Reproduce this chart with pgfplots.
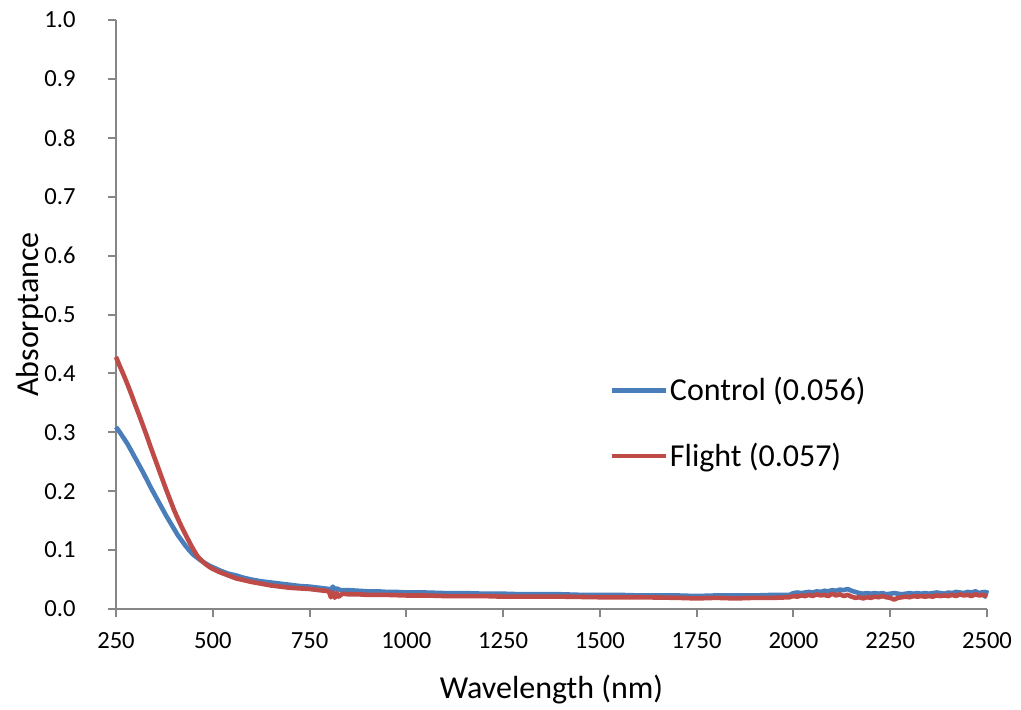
\documentclass[border=0pt]{standalone}
\usepackage{pgfplots}
\pgfplotsset{compat=1.18}
\usepackage{fontspec}
\setmainfont{Carlito}
\definecolor{ctrlblue}{HTML}{4A7EBB}
\definecolor{flightred}{HTML}{BE4B48}
\definecolor{axisgray}{HTML}{868686}

\begin{document}
\begin{tikzpicture}
\begin{axis}[
  scale only axis,
  width=435.5pt, height=294.5pt,
  xmin=250, xmax=2500, ymin=0, ymax=1,
  xtick={250,500,...,2500},
  ytick={0,0.1,...,1.0},
  axis lines*=left,
  axis line style={axisgray, line width=1pt},
  tick style={axisgray, line width=1pt},
  tick align=outside,
  major tick length=4pt,
  font=\fontsize{12.3}{14}\selectfont,
  /pgf/number format/assume math mode=true,
  x tick label style={/pgf/number format/1000 sep={}, inner sep=0pt, yshift=-7.5pt},
  y tick label style={/pgf/number format/.cd, fixed, fixed zerofill, precision=1,
    /tikz/.cd, inner sep=0pt, xshift=-16pt},
  xlabel={Wavelength (nm)},
  ylabel={Absorptance},
  xlabel style={font=\fontsize{16}{18}\selectfont, at={(axis description cs:0.5,0)},
    anchor=center, yshift=-40.5pt},
  ylabel style={font=\fontsize{16}{18}\selectfont, at={(axis description cs:0,0.5)},
    anchor=center, yshift=43pt},
  clip=false,
  legend style={draw=none, fill=none, at={(0.566,0.397)}, anchor=north west,
    font=\fontsize{16}{18}\selectfont, row sep=17.5pt, inner sep=0pt,
    nodes={inner sep=1pt}},
  legend cell align=left,
  legend image code/.code={\draw[#1] (0pt,0pt) -- (27pt,0pt);},
  every axis plot/.append style={line width=2.3pt, line join=round},
]
% Control sample
\addplot[ctrlblue] coordinates {
(250,0.309) (260,0.300) (270,0.290) (280,0.280) (290,0.268) (300,0.256)
(310,0.244) (320,0.232) (330,0.219) (340,0.206) (350,0.194) (360,0.182)
(370,0.170) (380,0.158) (390,0.147) (400,0.136) (410,0.125) (420,0.116)
(430,0.107) (440,0.099) (450,0.092) (460,0.087) (470,0.082) (480,0.078)
(490,0.074) (500,0.071) (520,0.065) (540,0.060) (560,0.057) (580,0.053)
(600,0.050) (625,0.047) (650,0.045) (675,0.043) (700,0.041) (725,0.039)
(750,0.038) (775,0.036) (800,0.034) (805,0.031) (810,0.038) (815,0.033)
(820,0.035) (830,0.032) (850,0.032) (875,0.031) (900,0.030) (925,0.030)
(950,0.029) (975,0.029) (1000,0.028) (1050,0.028) (1100,0.027) (1150,0.027)
(1200,0.026) (1250,0.026) (1300,0.025) (1350,0.025) (1400,0.025) (1450,0.024)
(1500,0.024) (1550,0.024) (1600,0.023) (1650,0.023) (1700,0.023) (1750,0.022)
(1800,0.023) (1850,0.023) (1900,0.023) (1950,0.024) (1990,0.024)
(2000,0.027) (2010,0.028) (2020,0.027) (2030,0.028) (2040,0.029) (2050,0.028)
(2060,0.030) (2070,0.029) (2080,0.031) (2090,0.030) (2100,0.032) (2110,0.031)
(2120,0.033) (2130,0.032) (2140,0.034) (2150,0.031) (2160,0.029) (2170,0.027)
(2180,0.026) (2190,0.027) (2200,0.026) (2210,0.027) (2220,0.026) (2230,0.027)
(2240,0.025) (2250,0.026) (2260,0.027) (2270,0.026) (2280,0.025) (2290,0.026)
(2300,0.027) (2310,0.026) (2320,0.027) (2330,0.026) (2340,0.027) (2350,0.026)
(2360,0.027) (2370,0.028) (2380,0.027) (2390,0.026) (2400,0.028) (2410,0.027)
(2420,0.029) (2430,0.028) (2440,0.027) (2450,0.029) (2460,0.028) (2470,0.030)
(2480,0.027) (2490,0.029) (2495,0.021) (2500,0.032)
};
\addlegendentry{Control (0.056)}
% Flight sample
\addplot[flightred] coordinates {
(250,0.428) (260,0.412) (270,0.397) (280,0.381) (290,0.364) (300,0.346)
(310,0.329) (320,0.311) (330,0.293) (340,0.274) (350,0.256) (360,0.238)
(370,0.220) (380,0.202) (390,0.185) (400,0.168) (410,0.153) (420,0.139)
(430,0.126) (440,0.113) (450,0.101) (460,0.090) (470,0.083) (480,0.077)
(490,0.072) (500,0.068) (520,0.062) (540,0.057) (560,0.052) (580,0.049)
(600,0.046) (625,0.043) (650,0.040) (675,0.038) (700,0.036) (725,0.035)
(750,0.034) (775,0.032) (790,0.031) (800,0.030) (805,0.020) (810,0.028)
(815,0.019) (820,0.027) (825,0.021) (835,0.026) (850,0.025) (875,0.025)
(900,0.024) (950,0.024) (1000,0.023) (1050,0.023) (1100,0.022) (1150,0.022)
(1200,0.022) (1250,0.021) (1300,0.021) (1400,0.021) (1500,0.020) (1600,0.020)
(1700,0.019) (1750,0.018) (1800,0.019) (1850,0.018) (1900,0.019) (1950,0.019)
(1990,0.020)
(2000,0.022) (2010,0.021) (2020,0.023) (2030,0.022) (2040,0.024) (2050,0.022)
(2060,0.025) (2070,0.023) (2080,0.024) (2090,0.022) (2100,0.026) (2110,0.023)
(2120,0.025) (2130,0.022) (2140,0.024) (2150,0.021) (2160,0.019) (2170,0.020)
(2180,0.018) (2190,0.020) (2200,0.019) (2210,0.021) (2220,0.020) (2230,0.022)
(2240,0.020) (2250,0.019) (2260,0.016) (2270,0.019) (2280,0.020) (2290,0.021)
(2300,0.020) (2310,0.022) (2320,0.021) (2330,0.022) (2340,0.021) (2350,0.022)
(2360,0.021) (2370,0.023) (2380,0.022) (2390,0.023) (2400,0.022) (2410,0.024)
(2420,0.022) (2430,0.025) (2440,0.023) (2450,0.024) (2460,0.022) (2470,0.025)
(2480,0.023) (2490,0.024) (2500,0.022)
};
\addlegendentry{Flight (0.057)}
\end{axis}
% page frame around the plot area and its labels
\pgfresetboundingbox
\path (-58pt,-50pt) rectangle (452.5pt,304.5pt);
\end{tikzpicture}
\end{document}
